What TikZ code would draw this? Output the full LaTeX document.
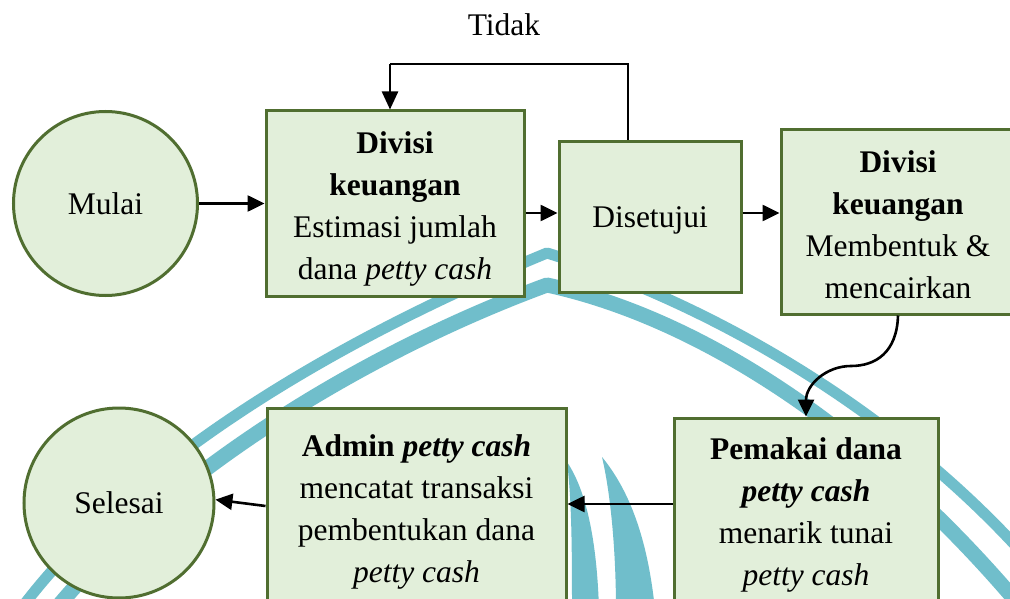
\documentclass[tikz,border=0pt]{standalone}
\usepackage{fontspec}
\setmainfont{Liberation Serif}
\usetikzlibrary{arrows.meta,calc}
\definecolor{boxfill}{RGB}{226,239,218}
\definecolor{boxline}{RGB}{80,110,48}
\definecolor{wmteal}{RGB}{112,190,203}
% taller first line pushes a node's text a little lower in its box
\newcommand{\lowerby}[1]{\rule{0pt}{#1}}

\begin{document}
\begin{tikzpicture}[x=1pt,y=-1pt,
  every node/.style={font=\fontsize{31.5}{42}\selectfont, align=center, inner sep=0pt},
  stepbox/.style={draw=boxline, fill=boxfill, line width=3pt, rectangle},
  terminal/.style={draw=boxline, fill=boxfill, line width=3pt, circle},
  flow/.style={line width=2.6pt, -{Triangle[length=17pt,width=16pt]}},
  band/.style={draw=wmteal, line width=#1, line join=round}
]
\useasboundingbox (0,0) rectangle (1010,599);
\clip (0,0) rectangle (1010,599);
\fill[white] (0,0) rectangle (1010,599);

% faint emblem behind the chart
\draw[band=11pt] (20,610) .. controls (140,450) and (360,330) .. (547,253)
                 .. controls (700,300) and (880,400) .. (1015,545);
\draw[band=15pt] (55,610) .. controls (170,470) and (370,350) .. (547,285)
                 .. controls (700,318) and (870,430) .. (1015,600);
\fill[wmteal] (567,462) .. controls (572,500) and (572,560) .. (572,610)
              -- (599,610) .. controls (597,540) and (586,490) .. cycle;
\fill[wmteal] (602,457) .. controls (612,500) and (616,560) .. (616,610)
              -- (655,610) .. controls (647,530) and (625,485) .. cycle;

% steps
\node[terminal, minimum size=184pt] (mulai) at (105.5,203.5) {Mulai};
\node[stepbox, minimum width=258pt, minimum height=185pt] (b1) at (395,203.5)
  {\lowerby{32pt}\textbf{Divisi}\\\textbf{keuangan}\\Estimasi jumlah\\dana \textit{petty cash}};
\node[stepbox, minimum width=182pt, minimum height=151pt] (dis) at (650,217)
  {\lowerby{27.5pt}Disetujui};
\node[stepbox, minimum width=234pt, minimum height=184pt] (b3) at (898,222)
  {\lowerby{28pt}\textbf{Divisi}\\\textbf{keuangan}\\Membentuk \&\\mencairkan};
\node[stepbox, minimum width=264pt, minimum height=188pt] (b4) at (806,512)
  {\lowerby{28pt}\textbf{Pemakai dana}\\\textbf{\textit{petty cash}}\\menarik tunai\\\textit{petty cash}};
\node[stepbox, minimum width=299pt, minimum height=202pt] (b5) at (416.5,509)
  {\lowerby{28pt}\textbf{Admin \textit{petty cash}}\\mencatat transaksi\\pembentukan dana\\\textit{petty cash}};
\node[terminal, minimum size=190pt] (sel) at (119,503) {Selesai};
\node (tidak) at (504,25) {Tidak};

% connectors
\coordinate (row) at (0,213);
\coordinate (loopR) at (628,64);
\coordinate (loopL) at (390,64);
\coordinate (mid) at (851,366);

\draw[flow] (mulai) -- (b1);
\draw[flow] (b1.east |- row) -- (dis.west |- row);
\draw[flow] (dis.east |- row) -- (b3.west |- row);
\draw[line width=1.2pt] (dis.north -| loopR) -- (loopR) -- (loopL);
\draw[line width=2.4pt, -{Triangle[length=18pt,width=16pt]}] (loopL) -- (b1.north -| loopL);
\draw[flow] (b3.south) .. controls (897,352) and (876,366) .. (mid)
            .. controls (826,366) and (806,385) .. (b4.north);
\draw[flow] ($(b4.west)+(0,-8)$) -- ($(b5.east)+(0,-5)$);
\draw[flow] ($(b5.west)+(0,-3)$) -- (sel.2);
\end{tikzpicture}
\end{document}
